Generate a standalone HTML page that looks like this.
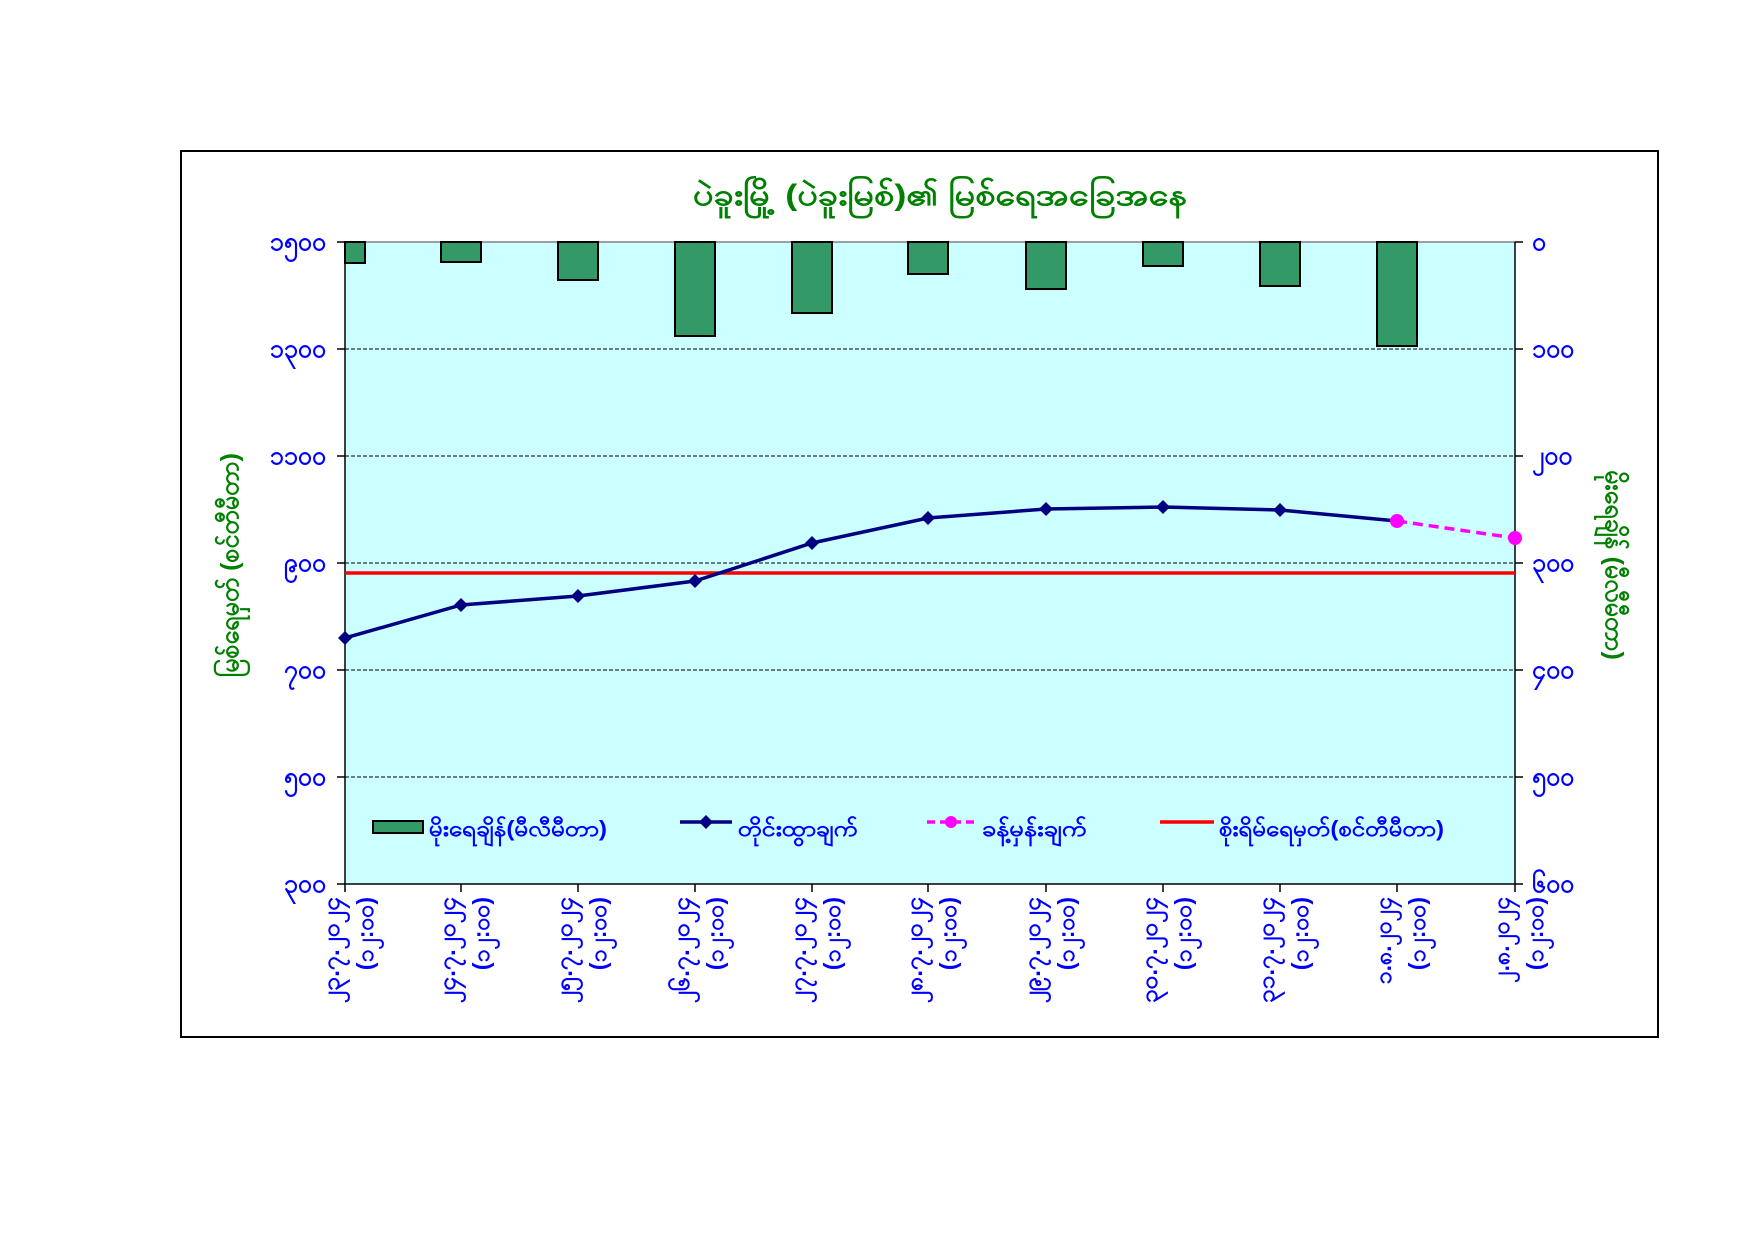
<!DOCTYPE html>
<html><head><meta charset="utf-8"><style>
html,body{margin:0;padding:0;background:#fff}
svg{display:block}
text{font-family:"Liberation Sans","Noto Sans CJK SC",sans-serif;font-weight:bold}
</style></head><body>
<svg width="1754" height="1241" viewBox="0 0 1754 1241" xmlns="http://www.w3.org/2000/svg">
<rect x="181" y="151" width="1477" height="886" fill="#fff" stroke="#000" stroke-width="2"/>
<text x="940" y="205" text-anchor="middle" font-size="30" fill="#008000" textLength="494" lengthAdjust="spacingAndGlyphs">ပဲခူးမြို့ (ပဲခူးမြစ်)၏ မြစ်ရေအခြေအနေ</text>
<rect x="345" y="242" width="1170" height="642" fill="#ccffff"/>
<g stroke="#000" stroke-width="1" stroke-dasharray="4,2">
<line x1="345" y1="349" x2="1515" y2="349"/><line x1="345" y1="456" x2="1515" y2="456"/>
<line x1="345" y1="563" x2="1515" y2="563"/><line x1="345" y1="670" x2="1515" y2="670"/>
<line x1="345" y1="777" x2="1515" y2="777"/>
</g>
<line x1="345" y1="242" x2="1515" y2="242" stroke="#808080" stroke-width="1.5"/>
<g fill="#339966" stroke="#000" stroke-width="2">
<rect x="345" y="242" width="20" height="21"/>
<rect x="441" y="242" width="40" height="20"/>
<rect x="558" y="242" width="40" height="38"/>
<rect x="675" y="242" width="40" height="94"/>
<rect x="792" y="242" width="40" height="71"/>
<rect x="908" y="242" width="40" height="32"/>
<rect x="1026" y="242" width="40" height="47"/>
<rect x="1143" y="242" width="40" height="24"/>
<rect x="1260" y="242" width="40" height="44"/>
<rect x="1377" y="242" width="40" height="104"/>
</g>
<g stroke="#000" stroke-width="1.5">
<line x1="345" y1="242" x2="345" y2="884"/><line x1="1515" y1="242" x2="1515" y2="884"/>
<line x1="345" y1="884" x2="1515" y2="884"/>
<line x1="337" y1="242" x2="345" y2="242"/><line x1="337" y1="349" x2="345" y2="349"/><line x1="337" y1="456" x2="345" y2="456"/><line x1="337" y1="563" x2="345" y2="563"/><line x1="337" y1="670" x2="345" y2="670"/><line x1="337" y1="777" x2="345" y2="777"/><line x1="337" y1="884" x2="345" y2="884"/>
<line x1="1515" y1="242" x2="1523" y2="242"/><line x1="1515" y1="349" x2="1523" y2="349"/><line x1="1515" y1="456" x2="1523" y2="456"/><line x1="1515" y1="563" x2="1523" y2="563"/><line x1="1515" y1="670" x2="1523" y2="670"/><line x1="1515" y1="777" x2="1523" y2="777"/><line x1="1515" y1="884" x2="1523" y2="884"/>
<line x1="345" y1="884" x2="345" y2="892"/><line x1="461" y1="884" x2="461" y2="892"/><line x1="578" y1="884" x2="578" y2="892"/><line x1="695" y1="884" x2="695" y2="892"/><line x1="812" y1="884" x2="812" y2="892"/><line x1="928" y1="884" x2="928" y2="892"/><line x1="1046" y1="884" x2="1046" y2="892"/><line x1="1163" y1="884" x2="1163" y2="892"/><line x1="1280" y1="884" x2="1280" y2="892"/><line x1="1397" y1="884" x2="1397" y2="892"/><line x1="1515" y1="884" x2="1515" y2="892"/>
</g>
<line x1="345" y1="573" x2="1515" y2="573" stroke="#ff0000" stroke-width="3.5"/>
<polyline points="345,638 461,605 578,596 695,581 812,543 928,518 1046,509 1163,507 1280,510 1397,521" fill="none" stroke="#000080" stroke-width="3.5"/>
<g fill="#000080">
<path d="M345 631l7 7-7 7-7-7z"/><path d="M461 598l7 7-7 7-7-7z"/><path d="M578 589l7 7-7 7-7-7z"/><path d="M695 574l7 7-7 7-7-7z"/><path d="M812 536l7 7-7 7-7-7z"/><path d="M928 511l7 7-7 7-7-7z"/><path d="M1046 502l7 7-7 7-7-7z"/><path d="M1163 500l7 7-7 7-7-7z"/><path d="M1280 503l7 7-7 7-7-7z"/>
</g>
<line x1="1397" y1="521" x2="1515" y2="538" stroke="#ff00ff" stroke-width="3.5" stroke-dasharray="10,6"/>
<circle cx="1397" cy="521" r="7" fill="#ff00ff"/><circle cx="1515" cy="538" r="7" fill="#ff00ff"/>
<g font-size="25" fill="#0000ff" text-anchor="end">
<text x="326" y="250">၁၅၀၀</text><text x="326" y="357">၁၃၀၀</text><text x="326" y="464">၁၁၀၀</text><text x="326" y="571">၉၀၀</text><text x="326" y="678">၇၀၀</text><text x="326" y="785">၅၀၀</text><text x="326" y="892">၃၀၀</text>
</g>
<g font-size="25" fill="#0000ff">
<text x="1532" y="250">၀</text><text x="1532" y="357">၁၀၀</text><text x="1532" y="464">၂၀၀</text><text x="1532" y="571">၃၀၀</text><text x="1532" y="678">၄၀၀</text><text x="1532" y="785">၅၀၀</text><text x="1532" y="892">၆၀၀</text>
</g>
<text transform="translate(238,565) rotate(-90)" text-anchor="middle" font-size="25" fill="#008000">မြစ်ရေမှတ် (စင်တီမီတာ)</text>
<text transform="translate(1606,565) rotate(90)" text-anchor="middle" font-size="25" fill="#008000">မိုးရေချိန် (မီလီမီတာ)</text>
<rect x="373" y="821" width="50" height="12" fill="#339966" stroke="#000" stroke-width="2"/>
<text x="429" y="836" font-size="22" fill="#0000ff" textLength="178" lengthAdjust="spacingAndGlyphs">မိုးရေချိန်(မီလီမီတာ)</text>
<line x1="680" y1="822" x2="732" y2="822" stroke="#000080" stroke-width="3.5"/><path d="M706 815l7 7-7 7-7-7z" fill="#000080"/>
<text x="738" y="836" font-size="22" fill="#0000ff" textLength="120" lengthAdjust="spacingAndGlyphs">တိုင်းထွာချက်</text>
<line x1="927" y1="822" x2="974" y2="822" stroke="#ff00ff" stroke-width="3.5" stroke-dasharray="8,5"/><circle cx="951" cy="822" r="6" fill="#ff00ff"/>
<text x="982" y="836" font-size="22" fill="#0000ff" textLength="105" lengthAdjust="spacingAndGlyphs">ခန့်မှန်းချက်</text>
<line x1="1160" y1="822" x2="1214" y2="822" stroke="#ff0000" stroke-width="3.5"/>
<text x="1219" y="836" font-size="22" fill="#0000ff" textLength="225" lengthAdjust="spacingAndGlyphs">စိုးရိမ်ရေမှတ်(စင်တီမီတာ)</text>
<g font-size="23" fill="#0000ff" text-anchor="end">
<g transform="translate(345,897) rotate(-90)"><text x="0" y="-6" textLength="106" lengthAdjust="spacingAndGlyphs">၂၃.၇.၂၀၂၄</text><text x="0" y="28">(၁၂:၀၀)</text></g>
<g transform="translate(461,897) rotate(-90)"><text x="0" y="-6" textLength="106" lengthAdjust="spacingAndGlyphs">၂၄.၇.၂၀၂၄</text><text x="0" y="28">(၁၂:၀၀)</text></g>
<g transform="translate(578,897) rotate(-90)"><text x="0" y="-6" textLength="106" lengthAdjust="spacingAndGlyphs">၂၅.၇.၂၀၂၄</text><text x="0" y="28">(၁၂:၀၀)</text></g>
<g transform="translate(695,897) rotate(-90)"><text x="0" y="-6" textLength="106" lengthAdjust="spacingAndGlyphs">၂၆.၇.၂၀၂၄</text><text x="0" y="28">(၁၂:၀၀)</text></g>
<g transform="translate(812,897) rotate(-90)"><text x="0" y="-6" textLength="106" lengthAdjust="spacingAndGlyphs">၂၇.၇.၂၀၂၄</text><text x="0" y="28">(၁၂:၀၀)</text></g>
<g transform="translate(928,897) rotate(-90)"><text x="0" y="-6" textLength="106" lengthAdjust="spacingAndGlyphs">၂၈.၇.၂၀၂၄</text><text x="0" y="28">(၁၂:၀၀)</text></g>
<g transform="translate(1046,897) rotate(-90)"><text x="0" y="-6" textLength="106" lengthAdjust="spacingAndGlyphs">၂၉.၇.၂၀၂၄</text><text x="0" y="28">(၁၂:၀၀)</text></g>
<g transform="translate(1163,897) rotate(-90)"><text x="0" y="-6" textLength="106" lengthAdjust="spacingAndGlyphs">၃၀.၇.၂၀၂၄</text><text x="0" y="28">(၁၂:၀၀)</text></g>
<g transform="translate(1280,897) rotate(-90)"><text x="0" y="-6" textLength="106" lengthAdjust="spacingAndGlyphs">၃၁.၇.၂၀၂၄</text><text x="0" y="28">(၁၂:၀၀)</text></g>
<g transform="translate(1397,897) rotate(-90)"><text x="0" y="-6">၁.၈.၂၀၂၄</text><text x="0" y="28">(၁၂:၀၀)</text></g>
<g transform="translate(1515,897) rotate(-90)"><text x="0" y="-6">၂.၈.၂၀၂၄</text><text x="0" y="28">(၁၂:၀၀)</text></g>
</g>
</svg>
</body></html>
